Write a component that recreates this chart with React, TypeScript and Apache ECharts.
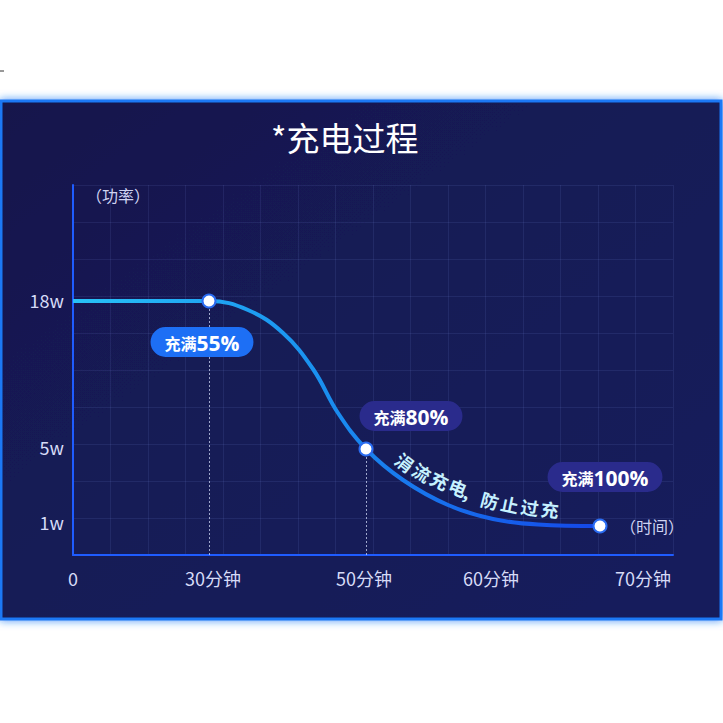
import React, { useEffect, useRef } from 'react';
import * as echarts from 'echarts';

// The picture is not drawn to scale, so both axes use "display units"
// (1 unit ≈ 10px) and the tick labels are placed at custom values.
const timeLabels = ['0', '30分钟', '50分钟', '60分钟', '70分钟'];
const timeLabelPos = [0, 14.0, 29.1, 41.8, 57.0];
const powerLabels = ['1w', '5w', '18w'];
const powerLabelPos = [3.3, 10.8, 25.5];

const curveX = [0, 7, 13.6, 17.5, 21.0, 24.0, 26.5, 29.3, 33.0, 37.5, 42.0, 46.5, 52.7];
const curveY = [25.4, 25.4, 25.4, 24.5, 22.2, 18.6, 14.2, 10.6, 7.5, 5.0, 3.6, 3.05, 2.9];

const keyX = [13.6, 29.3, 52.7];
const keyY = [25.4, 10.6, 2.9];
const keyPercent = ['55%', '80%', '100%'];

const trickleText = ['涓', '流', '充', '电', '，', '防', '止', '过', '充'];

const FONT = '"Noto Sans CJK SC", "Noto Sans", sans-serif';

const App: React.FC = () => {
  const chartRef = useRef<HTMLDivElement>(null);

  useEffect(() => {
    if (!chartRef.current) return;
    const chart = echarts.init(chartRef.current, null, { renderer: 'svg' });

    const pillStyles = [
      { bg: '#1d6ff5', offset: [-7, 41] },
      { bg: '#2a2b8c', offset: [45, -33] },
      { bg: '#2a2b8c', offset: [5, -49] },
    ];

    const charPos = [
      [405, 462, 38], [422, 472, 32], [440, 480, 27], [458, 487, 22], [471, 494, 20],
      [490, 500, 15], [510, 504, 12], [530, 507, 9], [550, 509, 7],
    ];

    const option = {
      animation: false,
      title: {
        text: '*充电过程',
        left: 266,
        top: 115,
        textStyle: { color: '#ffffff', fontSize: 33, fontWeight: 'normal', fontFamily: FONT },
      },
      graphic: [
        {
          type: 'rect',
          z: -100,
          shape: { x: 1, y: 101, width: 720, height: 518 },
          style: {
            fill: new echarts.graphic.LinearGradient(0, 0, 1, 1, [
              { offset: 0, color: '#12174c' },
              { offset: 0.5, color: '#151b57' },
              { offset: 1, color: '#131b5c' },
            ]),
            stroke: '#1e78f5',
            lineWidth: 3,
            shadowBlur: 8,
            shadowColor: 'rgba(30,120,245,0.8)',
          },
        },
        {
          type: 'line',
          z: -100,
          shape: { x1: 0, y1: 71, x2: 4, y2: 71 },
          style: { stroke: '#333', lineWidth: 1 },
        },
        {
          type: 'text',
          z: 100,
          x: 86,
          y: 195,
          style: {
            text: '（功率）',
            fill: '#cfd3f2',
            fontSize: 16,
            fontFamily: FONT,
            textVerticalAlign: 'middle',
          },
        },
        {
          type: 'text',
          z: 100,
          x: 620,
          y: 526,
          style: {
            text: '（时间）',
            fill: '#cfd3f2',
            fontSize: 16,
            fontFamily: FONT,
            textVerticalAlign: 'middle',
          },
        },
        ...trickleText.map((ch, i) => ({
          type: 'text',
          z: 100,
          x: charPos[i][0],
          y: charPos[i][1],
          rotation: (-charPos[i][2] * Math.PI) / 180,
          style: {
            text: ch,
            fill: '#c6f1ff',
            fontSize: 18,
            fontWeight: 'bold',
            fontFamily: FONT,
            textAlign: 'center',
            textVerticalAlign: 'middle',
          },
        })),
      ],
      grid: { left: 73, top: 185, width: 600, height: 370 },
      xAxis: [
        {
          type: 'value',
          min: 0,
          max: 60,
          axisLine: { show: true, lineStyle: { color: '#1f5cff', width: 2 } },
          axisTick: { show: false },
          splitLine: { show: false },
          axisLabel: {
            customValues: timeLabelPos,
            formatter: (v: number) => timeLabels[timeLabelPos.indexOf(v)] ?? '',
            color: '#d6dbf7',
            fontSize: 18,
            margin: 14,
            fontFamily: FONT,
          },
        },
        {
          type: 'value',
          min: 0,
          max: 60,
          interval: 3.75,
          position: 'bottom',
          axisLine: { show: false },
          axisTick: { show: false },
          axisLabel: { show: false },
          splitLine: { show: true, lineStyle: { color: 'rgba(150,165,255,0.1)', width: 1 } },
        },
      ],
      yAxis: [
        {
          type: 'value',
          min: 0,
          max: 37,
          axisLine: { show: true, lineStyle: { color: '#1f5cff', width: 2 } },
          axisTick: { show: false },
          splitLine: { show: false },
          axisLabel: {
            customValues: powerLabelPos,
            formatter: (v: number) => powerLabels[powerLabelPos.indexOf(v)] ?? '',
            color: '#d6dbf7',
            fontSize: 18,
            margin: 9,
            fontFamily: FONT,
          },
        },
        {
          type: 'value',
          min: 0,
          max: 37,
          interval: 3.7,
          position: 'left',
          axisLine: { show: false },
          axisTick: { show: false },
          axisLabel: { show: false },
          splitLine: { show: true, lineStyle: { color: 'rgba(150,165,255,0.1)', width: 1 } },
        },
      ],
      series: [
        {
          type: 'line',
          data: curveX.map((x, i) => [x, curveY[i]]),
          smooth: 0.4,
          showSymbol: false,
          z: 3,
          lineStyle: {
            width: 4,
            color: new echarts.graphic.LinearGradient(0, 0, 1, 0, [
              { offset: 0, color: '#28c2f7' },
              { offset: 0.45, color: '#1a92f0' },
              { offset: 1, color: '#1446e8' },
            ]),
          },
          markLine: {
            silent: true,
            symbol: 'none',
            label: { show: false },
            lineStyle: { color: 'rgba(220,228,255,0.7)', type: [2, 2], width: 1 },
            data: keyX.slice(0, 2).map((x, i) => [
              { coord: [x, keyY[i]] },
              { coord: [x, 0] },
            ]),
          },
        },
        {
          type: 'scatter',
          z: 5,
          symbol: 'circle',
          symbolSize: 13,
          itemStyle: { color: '#ffffff', borderColor: '#2a6cf2', borderWidth: 2, opacity: 1 },
          data: keyX.map((x, i) => ({
            value: [x, keyY[i]],
            label: {
              show: true,
              position: 'inside',
              offset: pillStyles[i].offset,
              formatter: `{a|充满}{b|${keyPercent[i]}}`,
              backgroundColor: pillStyles[i].bg,
              borderRadius: 16,
              padding: [5, 14, 4, 14],
              rich: {
                a: { color: '#ffffff', fontSize: 16, fontFamily: FONT, fontWeight: 'bold' },
                b: { color: '#ffffff', fontSize: 21, fontFamily: '"Open Sans", sans-serif', fontWeight: 'bold' },
              },
            },
          })),
        },
      ],
    };

    chart.setOption(option);
    return () => {
      chart.dispose();
    };
  }, []);

  return (
    <div
      ref={chartRef}
      style={{ position: 'fixed', left: 0, top: 0, width: '723px', height: '723px', background: '#ffffff' }}
    />
  );
};

export default App;
